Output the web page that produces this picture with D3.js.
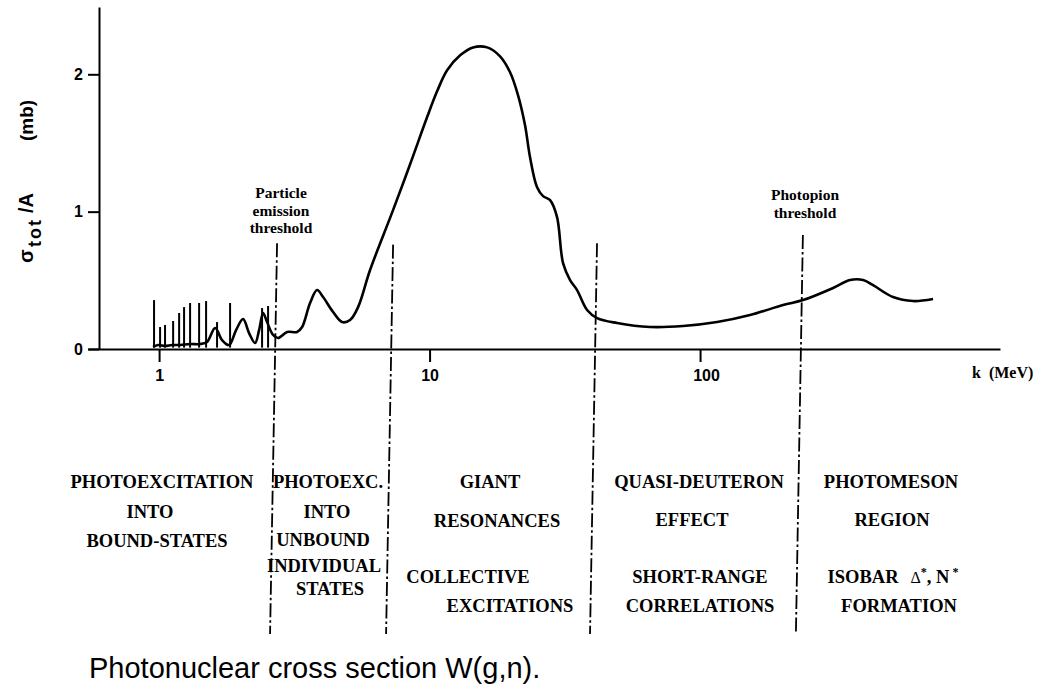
<!DOCTYPE html>
<html>
<head>
<meta charset="utf-8">
<script src="https://cdn.jsdelivr.net/npm/d3@7"></script>
<style>
  html, body { margin: 0; padding: 0; background: #fff; }
  svg { display: block; }
</style>
</head>
<body>
<svg id="chart" width="1058" height="688"></svg>
<script>
// Photon energy k (MeV) and total photoabsorption cross section per nucleon (mb)
const energyMeV = [
  0.950, 0.9915, 1.052, 1.117, 1.196, 1.302, 1.418, 1.504, 1.611, 1.710,
  1.815, 1.926, 2.044, 2.151, 2.264, 2.343, 2.424, 2.507, 2.639, 2.754,
  2.973, 3.237, 3.379, 3.616, 3.838, 4.040, 4.399, 4.749, 5.083, 5.441,
  6.026, 7.328, 8.472, 9.788, 10.66, 11.61, 12.97, 14.48, 16.32, 18.22,
  19.84, 21.24, 22.54, 23.52, 24.97, 26.28, 27.90, 29.60, 31.15, 33.07,
  35.10, 38.22, 41.62, 49.34, 65.35, 86.52, 115.6, 153.0, 202.7, 240.3,
  310.2, 358.5, 400.5, 436.1, 517.0, 613.1, 726.8
];
const sigmaPerNucleon = [
  0.015, 0.029, 0.022, 0.029, 0.029, 0.036, 0.036, 0.051, 0.153, 0.065,
  0.029, 0.138, 0.218, 0.116, 0.044, 0.138, 0.262, 0.196, 0.102, 0.080,
  0.124, 0.124, 0.160, 0.335, 0.429, 0.378, 0.269, 0.196, 0.211, 0.305,
  0.575, 1.011, 1.345, 1.687, 1.876, 2.029, 2.138, 2.196, 2.196, 2.131,
  2.015, 1.847, 1.629, 1.396, 1.178, 1.113, 1.084, 0.960, 0.625, 0.502,
  0.429, 0.284, 0.225, 0.189, 0.160, 0.167, 0.196, 0.247, 0.320, 0.356,
  0.444, 0.502, 0.502, 0.465, 0.378, 0.349, 0.364
];

// Sharp bound-state levels below the particle emission threshold
const levelEnergyMeV = [0.958, 1.0085, 1.052, 1.127, 1.186, 1.237, 1.302, 1.406, 1.492, 1.638, 1.830, 2.403, 2.529];
const levelPeak      = [0.356, 0.160, 0.175, 0.204, 0.262, 0.305, 0.335, 0.335, 0.349, 0.196, 0.335, 0.298, 0.313];

// Boundaries between the absorption regimes (MeV) and the height where each marker starts (mb)
const boundaryEnergyMeV = [2.73, 7.33, 41.6, 240];
const boundaryTop       = [0.77, 0.76, 0.77, 0.83];

const xTicks = [1, 10, 100];
const yTicks = [0, 1, 2];
const xDomain = [0.546, 1285];
const yDomain = [0, 2.49];

const svg = d3.select('#chart');
const x = d3.scaleLog().domain(xDomain).range([88, 1000]);
const y = d3.scaleLinear().domain(yDomain).range([349, 7]);

const serif = '"Liberation Serif", "Times New Roman", serif';
const sans = '"Liberation Sans", Arial, sans-serif';

// Axes
const xAxis = svg.append('g')
  .attr('transform', `translate(0,${y(0)})`)
  .call(d3.axisBottom(x).tickValues(xTicks).tickFormat(d3.format('d'))
        .tickSize(13).tickPadding(8).tickSizeOuter(0));
const yAxis = svg.append('g')
  .attr('transform', 'translate(99,0)')
  .call(d3.axisLeft(y).tickValues(yTicks).tickFormat(d3.format('d'))
        .tickSize(11).tickPadding(5).tickSizeOuter(0));

[xAxis, yAxis].forEach(g => {
  g.select('.domain').attr('stroke', '#000').attr('stroke-width', 2);
  g.selectAll('.tick line').attr('stroke', '#000').attr('stroke-width', 2);
  g.selectAll('.tick text')
    .attr('fill', '#000')
    .style('font-family', sans)
    .style('font-weight', 'bold')
    .style('font-size', '16px');
});
xAxis.selectAll('.tick text').filter(d => d === 100).attr('dx', 6);

// Regime boundaries (dash-dot)
svg.append('g').selectAll('line')
  .data(boundaryEnergyMeV)
  .join('line')
  .attr('x1', d => x(d))
  .attr('y1', (d, i) => y(boundaryTop[i]))
  .attr('x2', d => x(d) - 7)
  .attr('y2', 634)
  .attr('stroke', '#000')
  .attr('stroke-width', 1.8)
  .attr('stroke-dasharray', '14,3,2.5,3');

// Bound-state level spikes
svg.append('g').selectAll('line')
  .data(levelEnergyMeV)
  .join('line')
  .attr('x1', d => x(d))
  .attr('x2', d => x(d))
  .attr('y1', y(0.01))
  .attr('y2', (d, i) => y(levelPeak[i]))
  .attr('stroke', '#000')
  .attr('stroke-width', 2);

// Cross-section curve
const curve = d3.zip(energyMeV, sigmaPerNucleon);
svg.append('path')
  .datum(curve)
  .attr('d', d3.line().x(d => x(d[0])).y(d => y(d[1])).curve(d3.curveCatmullRom.alpha(0.5)))
  .attr('fill', 'none')
  .attr('stroke', '#000')
  .attr('stroke-width', 2.6)
  .attr('stroke-linejoin', 'round');

// Y axis title
const yt = svg.append('g')
  .attr('transform', 'translate(33,263) rotate(-90)')
  .style('font-family', sans)
  .style('font-weight', 'bold')
  .attr('fill', '#000');
yt.append('text').attr('x', 0).attr('y', 0).style('font-size', '20px').text('σ');
yt.append('text').attr('x', 16).attr('y', 8).style('font-size', '18px').style('letter-spacing', '2px').text('tot');
yt.append('text').attr('x', 50).attr('y', 0).style('font-size', '20px').text('/A');
yt.append('text').attr('x', 122).attr('y', 0).style('font-size', '19px').text('(mb)');

// X axis title
svg.append('text')
  .attr('x', 972).attr('y', 378)
  .style('font-family', serif).style('font-weight', 'bold').style('font-size', '16px')
  .attr('fill', '#000')
  .attr('xml:space', 'preserve')
  .text('k  (MeV)');

// Threshold annotations
const notes = [
  { lines: ['Particle', 'emission', 'threshold'], cx: 281, y0: 198 },
  { lines: ['Photopion', 'threshold'], cx: 805, y0: 200 }
];
notes.forEach(n => {
  n.lines.forEach((t, i) => {
    svg.append('text')
      .attr('x', n.cx).attr('y', n.y0 + i * 17.5)
      .attr('text-anchor', 'middle')
      .style('font-family', serif).style('font-weight', 'bold').style('font-size', '15.5px')
      .attr('fill', '#000')
      .text(t);
  });
});

// Regime descriptions below the axis
const regionText = [
  ['PHOTOEXCITATION', 162, 488], ['INTO', 150, 518], ['BOUND-STATES', 157, 547],
  ['PHOTOEXC.', 328, 488], ['INTO', 327, 518], ['UNBOUND', 323, 546], ['INDIVIDUAL', 324, 572], ['STATES', 330, 595],
  ['GIANT', 490, 488], ['RESONANCES', 497, 527], ['COLLECTIVE', 468, 583], ['EXCITATIONS', 510, 612],
  ['QUASI-DEUTERON', 699, 488], ['EFFECT', 692, 526], ['SHORT-RANGE', 700, 583], ['CORRELATIONS', 700, 612],
  ['PHOTOMESON', 891, 488], ['REGION', 892, 526], ['FORMATION', 899, 612]
];
const labels = svg.append('g')
  .style('font-family', serif).style('font-weight', 'bold').style('font-size', '18.5px')
  .attr('fill', '#000');
regionText.forEach(([t, cx, by]) => {
  labels.append('text').attr('x', cx).attr('y', by).attr('text-anchor', 'middle').text(t);
});
const iso = labels.append('text').attr('x', 893).attr('y', 583).attr('text-anchor', 'middle');
iso.append('tspan').text('ISOBAR');
iso.append('tspan').attr('dx', 12).style('font-weight', 'normal').style('font-size', '16px').text('Δ');
iso.append('tspan').attr('dy', -7).style('font-size', '12px').text('*');
iso.append('tspan').attr('dy', 7).text(', N');
iso.append('tspan').attr('dx', 3).attr('dy', -7).style('font-size', '12px').text('*');

// Caption
svg.append('text')
  .attr('x', 89).attr('y', 678)
  .style('font-family', sans).style('font-size', '29px')
  .attr('fill', '#000')
  .text('Photonuclear cross section W(g,n).');
</script>
</body>
</html>
